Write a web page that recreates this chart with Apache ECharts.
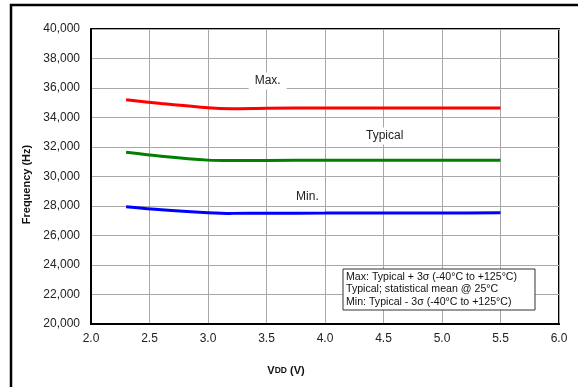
<!DOCTYPE html>
<html>
<head>
<meta charset="utf-8">
<script src="https://cdn.jsdelivr.net/npm/echarts@6/dist/echarts.min.js"></script>
<style>
  html, body { margin: 0; padding: 0; background: #fff; }
  #chart { width: 578px; height: 387px; }
</style>
</head>
<body>
<div id="chart"></div>
<script>
// VDD (V) sample points
const vdd = [2.3, 2.6, 3.0, 3.2, 3.5, 4.0, 4.5, 5.0, 5.5]
const maxFreq = [35200, 34950, 34660, 34600, 34630, 34650, 34650, 34650, 34650]
const typFreq = [31650, 31380, 31110, 31080, 31090, 31100, 31100, 31100, 31100]
const minFreq = [27950, 27740, 27550, 27500, 27510, 27520, 27530, 27530, 27540]
const curveLabels = [
  { name: 'Max.', at: [3.51, 36470] },
  { name: 'Typical', at: [4.51, 32750] },
  { name: 'Min.', at: [3.85, 28610] },
]
const noteLines = [
  'Max: Typical + 3σ (-40°C to +125°C)',
  'Typical; statistical mean @ 25°C',
  'Min: Typical - 3σ (-40°C to +125°C)',
]

const font = 'Liberation Sans, Arial, sans-serif'
const chart = echarts.init(document.getElementById('chart'))

function makeSeries(name, values, color, label) {
  return {
    name,
    type: 'line',
    smooth: 0.3,
    symbol: 'none',
    data: vdd.map((x, i) => [x, values[i]]),
    lineStyle: { color, width: 3 },
    z: 3,
    markPoint: {
      symbol: 'rect',
      symbolSize: 0,
      silent: true,
      data: [{ coord: label.at }],
      label: {
        show: true,
        formatter: label.name,
        position: 'inside',
        color: '#222',
        fontFamily: font,
        fontSize: 12,
        backgroundColor: '#fff',
        padding: [3, 6, 2, 6],
      },
    },
  }
}

chart.setOption({
  animation: false,
  textStyle: { fontFamily: font },
  grid: {
    left: 91,
    right: 19,
    top: 29,
    bottom: 63,
    show: true,
    borderColor: '#000',
    borderWidth: 2,
  },
  xAxis: {
    type: 'value',
    min: 2.0,
    max: 6.0,
    interval: 0.5,
    name: 'V{s|DD} (V)',
    nameLocation: 'middle',
    nameGap: 41,
    nameTextStyle: {
      fontFamily: font,
      fontSize: 11,
      fontWeight: 'bold',
      color: '#111',
      padding: [0, 78, 0, 0],
      rich: { s: { fontSize: 8.5, fontWeight: 'bold', color: '#111', fontFamily: font } },
    },
    axisLine: { show: true, lineStyle: { color: '#000', width: 2 } },
    axisTick: { show: false },
    axisLabel: {
      color: '#222',
      fontSize: 12,
      margin: 9,
      formatter: v => v.toFixed(1),
    },
    splitLine: { show: true, lineStyle: { color: '#a8a8a8', width: 1 } },
  },
  yAxis: {
    type: 'value',
    min: 20000,
    max: 40000,
    interval: 2000,
    name: 'Frequency (Hz)',
    nameLocation: 'middle',
    nameGap: 53,
    nameTextStyle: {
      fontFamily: font,
      fontSize: 11,
      fontWeight: 'bold',
      color: '#111',
      padding: [0, 16, 0, 0],
    },
    axisLine: { show: true, lineStyle: { color: '#000', width: 2 } },
    axisTick: { show: false },
    axisLabel: {
      color: '#222',
      fontSize: 12,
      margin: 11,
      formatter: v => v.toLocaleString('en-US'),
    },
    splitLine: { show: true, lineStyle: { color: '#a8a8a8', width: 1 } },
  },
  series: [
    makeSeries('Max', maxFreq, '#ff0000', curveLabels[0]),
    makeSeries('Typical', typFreq, '#008000', curveLabels[1]),
    makeSeries('Min', minFreq, '#0000ff', curveLabels[2]),
  ],
  graphic: [
    {
      type: 'rect',
      shape: { x: 11, y: 5, width: 620, height: 420 },
      style: { fill: 'none', stroke: '#000', lineWidth: 2.5 },
      silent: true,
    },
    {
      type: 'rect',
      z: 100,
      shape: { x: 343, y: 269, width: 192, height: 41 },
      style: { fill: '#fff', stroke: '#333', lineWidth: 1 },
    },
    ...noteLines.map((t, i) => ({
      type: 'text',
      z: 101,
      x: 346,
      y: 271.5 + i * 12.5,
      style: { text: t, fill: '#111', font: '10.6px Liberation Sans, Arial, sans-serif' },
    })),
  ],
})
</script>
</body>
</html>
